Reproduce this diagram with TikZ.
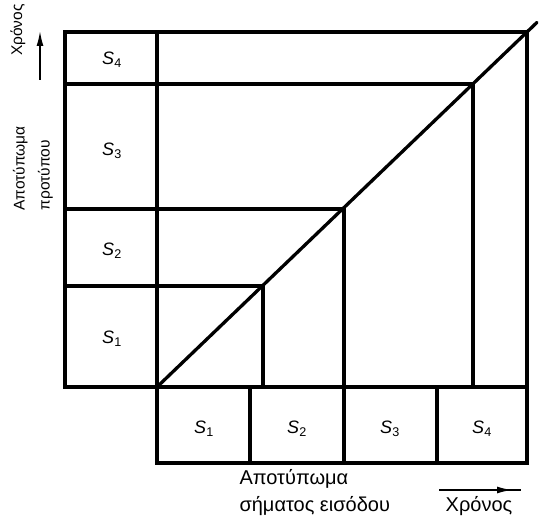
\documentclass[tikz,border=0pt]{standalone}
\usepackage{fontspec}
\setmainfont{Liberation Sans}
\usetikzlibrary{arrows.meta,positioning,calc}

\newcommand{\seg}[1]{\textit{S}\textsubscript{#1}}

\begin{document}
\begin{tikzpicture}[x=1pt, y=-1pt,
    frame/.style={line width=3.3pt, line cap=round},
    cell/.style={font=\fontsize{18}{18}\selectfont},
    axislabel/.style={font=\fontsize{20}{27}\selectfont, align=left},
    sidelabel/.style={font=\fontsize{15.5}{25}\selectfont, align=left, rotate=90},
    timearrow/.style={-{Latex[length=15pt,width=7pt]}, line width=1.6pt}
]
\useasboundingbox (0,0) rectangle (539,519);

% Grid corners
\coordinate (o) at (157,387);
\coordinate (c1) at (263,286);
\coordinate (c2) at (344,209);
\coordinate (c3) at (473,84);
\coordinate (c4) at (527,32);

% Outer frame
\draw[frame] (65,32) rectangle (527,387);
\draw[frame] (157,32) -- (157,463) -- (527,463) -- (527,387);

% Template rows
\draw[frame] (65,286) -| (c1) -- (c1 |- o);
\draw[frame] (65,209) -| (c2) -- (c2 |- o);
\draw[frame] (65,84) -| (c3) -- (c3 |- o);

% Input columns
\draw[frame] (250,387) -- (250,463);
\draw[frame] (344,387) -- (344,463);
\draw[frame] (437,387) -- (437,463);

% Warping path
\draw[frame] (o) -- ($(o)!1.027!(c4)$);

% Segment labels
\node[cell] (t4) at (112,60) {\seg{4}};
\node[cell] (t3) at (112,151) {\seg{3}};
\node[cell] (t2) at (112,251) {\seg{2}};
\node[cell] (t1) at (112,339) {\seg{1}};
\node[cell] (i1) at (204,429) {\seg{1}};
\node[cell] (i2) at (297,429) {\seg{2}};
\node[cell] (i3) at (390,429) {\seg{3}};
\node[cell] (i4) at (482,429) {\seg{4}};

% Axis labels
\node[sidelabel, anchor=west] (tpl) at (33,214) {Αποτύπωμα\\προτύπου};
\node[sidelabel] (ty) at (18,30) {Χρόνος};
\coordinate (ya) at (40,80);
\coordinate (yb) at (40,31);
\draw[timearrow] (ya) -- (yb);

\node[axislabel, anchor=north west] (inp) at (236,466) {Αποτύπωμα\\σήματος εισόδου};
\node[axislabel] (tx) at (479,506) {Χρόνος};
\coordinate (xa) at (439,490);
\coordinate (xm) at (512,490);
\coordinate (xb) at (521,490);
\draw[line width=1.6pt] (xa) -- (xb);
\draw[timearrow] (xa) -- (xm);

\end{tikzpicture}
\end{document}
